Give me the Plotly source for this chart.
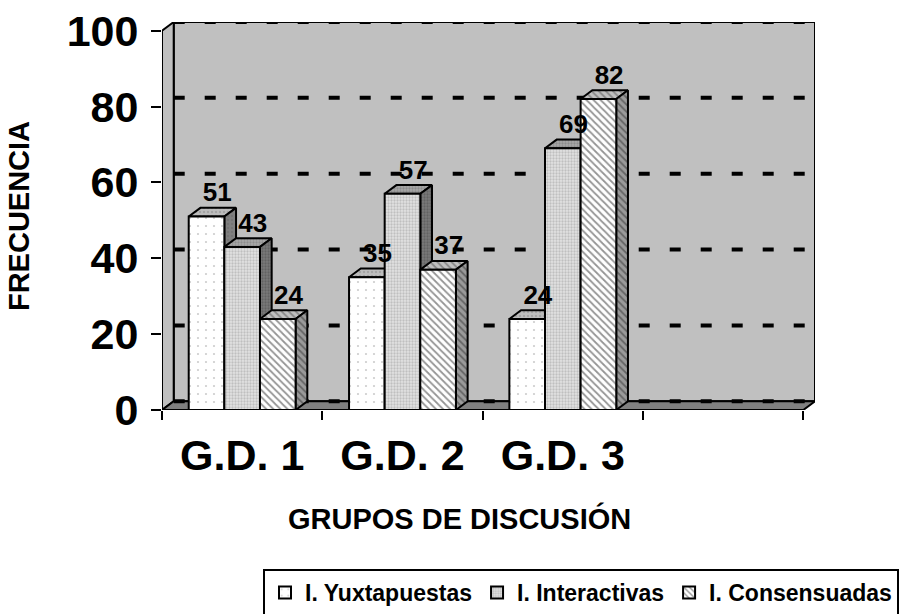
import plotly.graph_objects as go

# ---------------- data ----------------
categories = ["G.D. 1", "G.D. 2", "G.D. 3"]
n_slots = 4  # the category axis has one empty slot at the end
series_names = ["I. Yuxtapuestas", "I. Interactivas", "I. Consensuadas"]
yuxtapuestas = [51, 35, 24]
interactivas = [43, 57, 69]
consensuadas = [24, 37, 82]
y_ticks = [0, 20, 40, 60, 80, 100]
x_title = "GRUPOS DE DISCUSIÓN"
y_title = "FRECUENCIA"

# ---------------- styles ----------------
FONT = "Liberation Sans, Arial, sans-serif"
BW = 2 / 9          # bar width in category units (gap width 150 %)
DX = 0.073          # 3-D depth offset (x, category units)
DY = 2.3            # 3-D depth offset (y, value units)
YMAX = 100

styles = [
    dict(front=dict(shape=".", bgcolor="#ffffff", fgcolor="#9a9a9a", size=8, solidity=0.06),
         top=dict(shape=".", bgcolor="#bdbdbd", fgcolor="#8a8a8a", size=4, solidity=0.3),
         side=dict(shape=".", bgcolor="#808080", fgcolor="#6a6a6a", size=4, solidity=0.3)),
    dict(front=dict(shape=".", bgcolor="#e2e2e2", fgcolor="#9c9c9c", size=3, solidity=0.45),
         top=dict(shape=".", bgcolor="#a8a8a8", fgcolor="#707070", size=3, solidity=0.45),
         side=dict(shape=".", bgcolor="#7a7a7a", fgcolor="#4a4a4a", size=3, solidity=0.45)),
    dict(front=dict(shape="\\", bgcolor="#ffffff", fgcolor="#2a2a2a", size=5, solidity=0.35),
         top=dict(shape="\\", bgcolor="#c0c0c0", fgcolor="#505050", size=5, solidity=0.35),
         side=dict(shape="\\", bgcolor="#9a9a9a", fgcolor="#303030", size=5, solidity=0.35)),
]

series_values = [yuxtapuestas, interactivas, consensuadas]

fig = go.Figure()

for j, (name, vals) in enumerate(zip(series_names, series_values)):
    st = styles[j]
    centers = [i + (j - 1) * BW for i in range(len(categories))]
    tx, ty, sx, sy = [], [], [], []
    for xc, v in zip(centers, vals):
        xl, xr = xc - BW / 2, xc + BW / 2
        tx += [xl, xr, xr + DX, xl + DX, xl, None]
        ty += [v, v, v + DY, v + DY, v, None]
        sx += [xr, xr + DX, xr + DX, xr, xr, None]
        sy += [0, DY, v + DY, v, 0, None]
    fig.add_trace(go.Scatter(
        x=tx, y=ty, mode="lines", fill="toself",
        line=dict(color="black", width=2),
        fillcolor=st["top"]["bgcolor"], fillpattern=st["top"],
        showlegend=False, hoverinfo="skip", zorder=0))
    fig.add_trace(go.Scatter(
        x=sx, y=sy, mode="lines", fill="toself",
        line=dict(color="black", width=2),
        fillcolor=st["side"]["bgcolor"], fillpattern=st["side"],
        showlegend=False, hoverinfo="skip", zorder=0))

for j, (name, vals) in enumerate(zip(series_names, series_values)):
    st = styles[j]
    centers = [i + (j - 1) * BW for i in range(len(categories))]
    fig.add_trace(go.Bar(
        x=centers, y=vals, width=BW, name=name,
        marker=dict(color=st["front"]["bgcolor"], pattern=st["front"],
                    line=dict(color="black", width=2)),
        zorder=1))

for j, (name, vals) in enumerate(zip(series_names, series_values)):
    centers = [i + (j - 1) * BW for i in range(len(categories))]
    fig.add_trace(go.Scatter(
        x=[c + DX / 2 + 0.03 for c in centers], y=[v + DY for v in vals],
        text=[str(v) for v in vals], mode="text", textposition="top center",
        textfont=dict(family=FONT, size=26, color="black", weight="bold"),
        showlegend=False, hoverinfo="skip", cliponaxis=False, zorder=2))

x0, x1 = -0.5, n_slots - 0.5
shapes = [
    # back wall
    dict(type="rect", xref="x", yref="y", x0=x0 + DX, x1=x1 + DX, y0=DY, y1=YMAX + DY,
         fillcolor="#c0c0c0", line=dict(color="black", width=2), layer="below"),
    # left wall
    dict(type="path", xref="x", yref="y",
         path=f"M{x0},0 L{x0},{YMAX} L{x0 + DX},{YMAX + DY} L{x0 + DX},{DY} Z",
         fillcolor="#c0c0c0", line=dict(color="black", width=2), layer="below"),
    # floor
    dict(type="path", xref="x", yref="y",
         path=f"M{x0},0 L{x1},0 L{x1 + DX},{DY} L{x0 + DX},{DY} Z",
         fillcolor="#808080", line=dict(color="black", width=2), layer="below"),
]
for t in y_ticks:
    shapes.append(dict(type="line", xref="x", yref="y", x0=x0 + DX, x1=x1 + DX,
                       y0=t + DY, y1=t + DY,
                       line=dict(color="black", width=4, dash="11px,20px"), layer="below"))

fig.update_layout(
    width=907, height=614,
    margin=dict(l=162, r=92, t=22, b=204, autoexpand=False),
    paper_bgcolor="white", plot_bgcolor="white",
    barmode="overlay",
    shapes=shapes,
    font=dict(family=FONT, color="black"),
    xaxis=dict(
        range=[x0, x1 + DX], tickmode="array", tickvals=list(range(len(categories))),
        ticktext=categories, ticks="", showgrid=False, zeroline=False, showline=False,
        automargin=False,
        tickfont=dict(family=FONT, size=43, color="black", weight="bold"),
        ticklabelstandoff=16,
        minor=dict(tickmode="array", tickvals=[x0 + k for k in range(n_slots + 1)],
                   ticks="outside", ticklen=9, tickwidth=2, tickcolor="black", showgrid=False),
    ),
    yaxis=dict(
        range=[0, YMAX + DY], tickmode="array", tickvals=y_ticks,
        ticks="outside", ticklen=10, tickwidth=2, tickcolor="black",
        showgrid=False, zeroline=False, showline=False, automargin=False,
        tickfont=dict(family=FONT, size=43, color="black", weight="bold"),
        ticklabelstandoff=4,
        title=dict(text=y_title, font=dict(family=FONT, size=29, color="black", weight="bold"),
                   standoff=28),
    ),
    annotations=[dict(text=x_title, xref="paper", yref="paper", x=(459 - 162) / 653,
                      y=-(518 - 410) / 388, xanchor="center", yanchor="middle", showarrow=False,
                      font=dict(family=FONT, size=29, color="black", weight="bold"))],
    legend=dict(orientation="h", xref="container", yref="container",
                x=263 / 907, y=(614 - 569) / 614, xanchor="left", yanchor="top",
                bordercolor="black", borderwidth=2, bgcolor="white",
                font=dict(family=FONT, size=23, color="black", weight="bold"),
                traceorder="normal", entrywidth=0),
    showlegend=True,
)

fig.write_html("out.html", config={"displayModeBar": False},
               post_script="document.body.style.margin='0px';document.body.style.overflow='hidden';")
